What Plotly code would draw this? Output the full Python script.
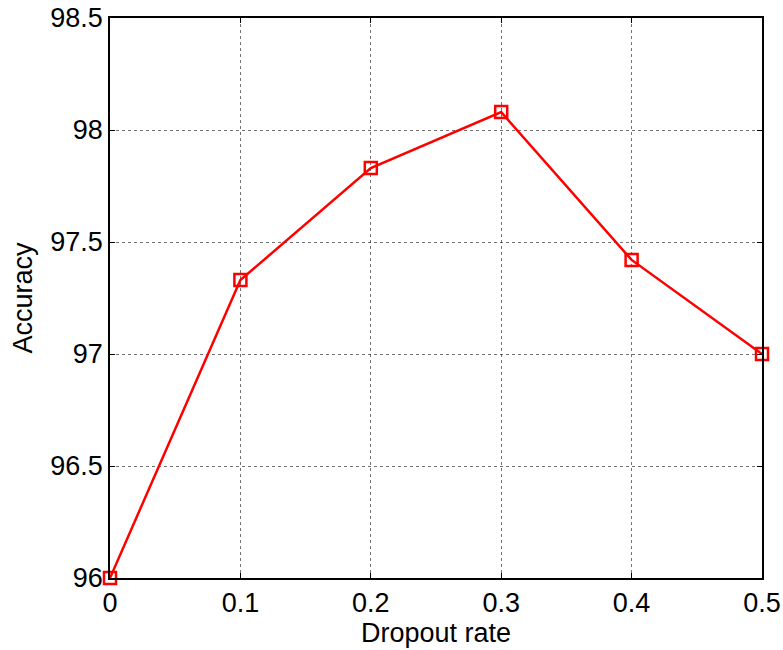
import plotly.graph_objects as go

dropout_rate = [0.0, 0.1, 0.2, 0.3, 0.4, 0.5]
accuracy = [96.0, 97.33, 97.83, 98.08, 97.42, 97.0]
x_ticks = [0, 0.1, 0.2, 0.3, 0.4, 0.5]
x_tick_labels = ["0", "0.1", "0.2", "0.3", "0.4", "0.5"]
y_ticks = [96, 96.5, 97, 97.5, 98, 98.5]
y_tick_labels = ["96", "96.5", "97", "97.5", "98", "98.5"]

FONT = "Liberation Sans, Arial, sans-serif"

fig = go.Figure()
fig.add_trace(go.Scatter(
    x=dropout_rate, y=accuracy,
    mode="lines+markers",
    line=dict(color="#ff0000", width=2.5),
    marker=dict(symbol="square-open", size=12, color="#ff0000",
                line=dict(color="#ff0000", width=2.5)),
    cliponaxis=False,
    showlegend=False,
))

axis_common = dict(
    showline=True, linecolor="black", linewidth=1.5, mirror="ticks",
    ticks="inside", ticklen=5, tickcolor="black", tickwidth=1,
    showgrid=True, gridcolor="rgba(0,0,0,0.55)", gridwidth=1, griddash="dot",
    zeroline=False, automargin=False,
    tickfont=dict(family=FONT, size=27, color="black"),
)

fig.update_layout(
    width=783, height=650,
    margin=dict(l=110, r=21, t=18, b=72),
    paper_bgcolor="white", plot_bgcolor="white",
    font=dict(family=FONT, color="black"),
    xaxis=dict(range=[0, 0.5], tickvals=x_ticks, ticktext=x_tick_labels,
               title=dict(text="Dropout rate", font=dict(family=FONT, size=27, color="black"),
                          standoff=0),
               **axis_common),
    yaxis=dict(range=[96, 98.5], tickvals=y_ticks, ticktext=y_tick_labels,
               title=dict(text="Accuracy", font=dict(family=FONT, size=27, color="black"),
                          standoff=10),
               **axis_common),
)

fig.write_html("out.html")
